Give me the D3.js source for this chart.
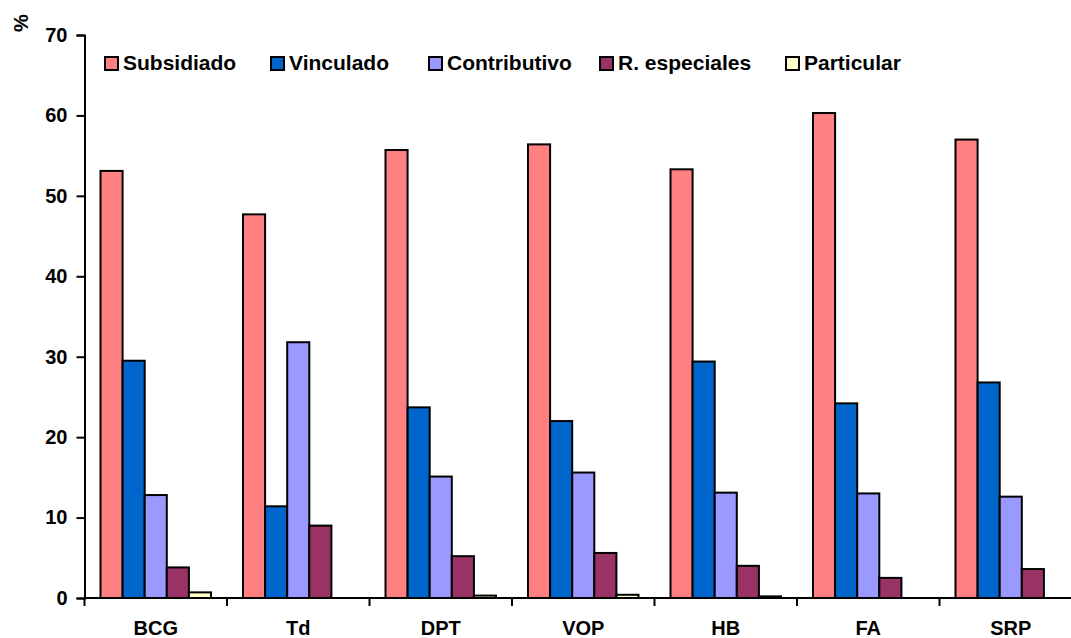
<!DOCTYPE html>
<html>
<head>
<meta charset="utf-8">
<script src="https://cdn.jsdelivr.net/npm/d3@7/dist/d3.min.js"></script>
<style>
  html, body { margin: 0; padding: 0; background: #fff; }
  svg { display: block; }
  text { font-family: "Liberation Sans", Arial, sans-serif; font-weight: bold; fill: #000; }
</style>
</head>
<body>
<svg id="chart" width="1071" height="638"></svg>
<script>
// Vaccines (categories)
const categories = ["BCG", "Td", "DPT", "VOP", "HB", "FA", "SRP"];

// Percentage of doses by health-insurance regime
const seriesNames = ["Subsidiado", "Vinculado", "Contributivo", "R. especiales", "Particular"];
const subsidiado   = [53.1, 47.7, 55.7, 56.4, 53.3, 60.3, 57.0];
const vinculado    = [29.5, 11.4, 23.7, 22.0, 29.4, 24.2, 26.8];
const contributivo = [12.8, 31.8, 15.1, 15.6, 13.1, 13.0, 12.6];
const rEspeciales  = [3.8, 9.0, 5.2, 5.6, 4.0, 2.5, 3.6];
const particular   = [0.7, 0, 0.3, 0.4, 0.2, 0, 0];

// Y axis ticks
const yTicks = [0, 10, 20, 30, 40, 50, 60, 70];

const seriesValues = [subsidiado, vinculado, contributivo, rEspeciales, particular];
const colors = ["#FF8080", "#0066CC", "#9999FF", "#993366", "#FFFFCC"];

const svg = d3.select("#chart");

// Plot geometry
const plotLeft = 84.5, plotTop = 35, plotBottom = 598, groupStep = 142.5;

const y = d3.scaleLinear().domain([0, 70]).range([plotBottom, plotTop]);
const x0 = d3.scaleBand().domain(categories)
  .range([plotLeft, plotLeft + groupStep * categories.length]).padding(0);
const x1 = d3.scaleBand().domain(seriesNames)
  .range([16, x0.bandwidth() - 16]).padding(0);

// Bars
const groups = svg.append("g").selectAll("g")
  .data(categories)
  .join("g")
  .attr("transform", d => `translate(${x0(d)},0)`);

groups.selectAll("rect")
  .data((c, i) => seriesNames.map((s, k) => ({ s, k, v: seriesValues[k][i] })).filter(d => d.v > 0))
  .join("rect")
  .attr("x", d => x1(d.s))
  .attr("width", x1.bandwidth())
  .attr("y", d => y(d.v))
  .attr("height", d => y(0) - y(d.v))
  .attr("fill", d => colors[d.k])
  .attr("stroke", "#000")
  .attr("stroke-width", 2);

// Y axis
const yAxis = svg.append("g")
  .attr("transform", `translate(${plotLeft},0)`)
  .call(d3.axisLeft(y).tickValues(yTicks).tickSize(8).tickPadding(9).tickFormat(d3.format("d")));
yAxis.select(".domain").attr("stroke", "#000").attr("stroke-width", 2);
yAxis.selectAll(".tick line").attr("stroke", "#000").attr("stroke-width", 2);
yAxis.selectAll(".tick text")
  .style("font-size", "20px")
  .style("font-family", "'Liberation Sans', Arial, sans-serif")
  .style("font-weight", "bold");

// X axis
const xTickScale = d3.scaleLinear().domain([0, categories.length])
  .range([plotLeft, plotLeft + groupStep * categories.length]);
const xAxis = svg.append("g").attr("transform", `translate(0,${plotBottom})`);
xAxis.append("line")
  .attr("x1", plotLeft).attr("x2", plotLeft + groupStep * categories.length)
  .attr("stroke", "#000").attr("stroke-width", 2);
xAxis.selectAll("line.tk")
  .data(d3.range(categories.length + 1))
  .join("line")
  .attr("class", "tk")
  .attr("x1", d => xTickScale(d)).attr("x2", d => xTickScale(d))
  .attr("y1", 0).attr("y2", 8)
  .attr("stroke", "#000").attr("stroke-width", 2);
xAxis.selectAll("text")
  .data(categories)
  .join("text")
  .attr("x", d => x0(d) + x0.bandwidth() / 2)
  .attr("y", 37)
  .attr("text-anchor", "middle")
  .style("font-size", "20px")
  .text(d => d);

// Y axis unit
svg.append("text")
  .attr("transform", "translate(28,23) rotate(-90)")
  .attr("text-anchor", "middle")
  .style("font-size", "20px")
  .text("%");

// Legend
const legendX = [104, 270, 428, 599, 785];
const legend = svg.append("g").selectAll("g")
  .data(seriesNames)
  .join("g")
  .attr("transform", (d, i) => `translate(${legendX[i]},56)`);
legend.append("rect")
  .attr("x", 1).attr("y", 1).attr("width", 13).attr("height", 13)
  .attr("fill", (d, i) => colors[i])
  .attr("stroke", "#000").attr("stroke-width", 2);
legend.append("text")
  .attr("x", 19).attr("y", 14)
  .style("font-size", "21px")
  .text(d => d);
</script>
</body>
</html>
